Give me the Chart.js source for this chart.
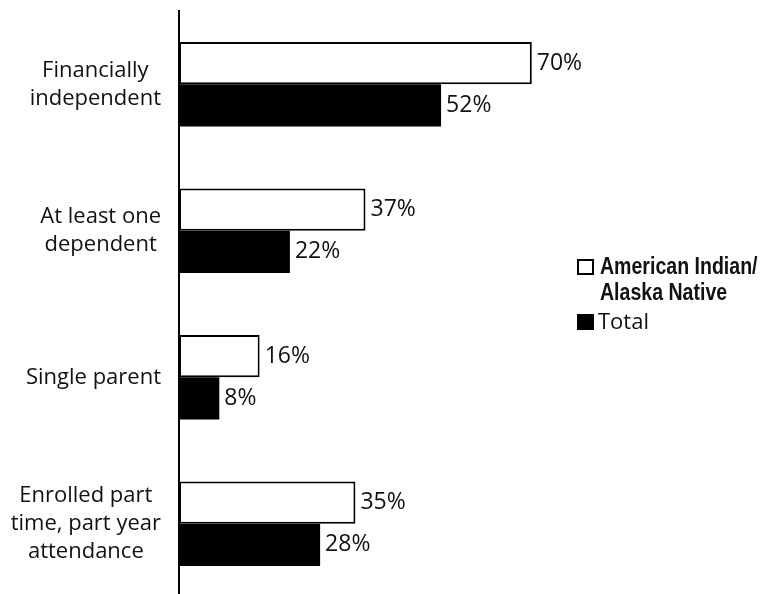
<!DOCTYPE html>
<html>
<head>
<meta charset="utf-8">
<style>
  html, body { margin: 0; padding: 0; background: #fff; overflow: hidden; }
  canvas { display: block; }
</style>
<script src="https://cdn.jsdelivr.net/npm/chart.js@4/dist/chart.umd.min.js"></script>
</head>
<body>
<canvas id="incomeChart" width="760" height="600"></canvas>
<script>
// category labels, one array of lines per bar group
let categories = [
  ["Financially", "independent"],
  ["At least one", "dependent"],
  ["Single parent"],
  ["Enrolled part", "time, part year", "attendance"]
];
let aianValues = [70, 37, 16, 35];
let totalValues = [52, 22, 8, 28];
let seriesNames = [["American Indian/", "Alaska Native"], ["Total"]];

const textFont = "22px 'Open Sans'";
const valueFont = "23px 'Open Sans'";
const legendFont = "bold 23px 'Liberation Sans'";

//Draw category labels: each block centered on itself, blocks right aligned near the axis
const categoryLabels = {
  id: 'categoryLabels',
  afterDraw(chart) {
    let ctx = chart.ctx;
    let yScale = chart.scales.y;
    let right = 161;
    let lineHeight = 28;
    ctx.save();
    ctx.font = textFont;
    ctx.fillStyle = '#111';
    ctx.textAlign = 'center';
    ctx.textBaseline = 'middle';
    categories.forEach((lines, i) => {
      let widest = Math.max(...lines.map(l => ctx.measureText(l).width));
      let cx = right - widest / 2;
      let cy = yScale.getPixelForValue(i);
      let top = cy - (lines.length - 1) * lineHeight / 2;
      lines.forEach((l, j) => ctx.fillText(l, cx, top + j * lineHeight));
    });
    ctx.restore();
  }
};

//Percent labels at the end of each bar
const valueLabels = {
  id: 'valueLabels',
  afterDatasetsDraw(chart) {
    let ctx = chart.ctx;
    ctx.save();
    ctx.font = valueFont;
    ctx.fillStyle = '#111';
    ctx.textAlign = 'left';
    ctx.textBaseline = 'middle';
    chart.data.datasets.forEach((ds, d) => {
      chart.getDatasetMeta(d).data.forEach((bar, i) => {
        ctx.fillText(ds.data[i] + '%', bar.x + 5, bar.y);
      });
    });
    ctx.restore();
  }
};

//Legend on the right side
const sideLegend = {
  id: 'sideLegend',
  afterDraw(chart) {
    let ctx = chart.ctx;
    ctx.save();
    // outlined box
    ctx.fillStyle = '#fff';
    ctx.fillRect(578, 260, 15, 14);
    ctx.strokeStyle = '#000';
    ctx.lineWidth = 2;
    ctx.strokeRect(578, 260, 15, 14);
    ctx.fillStyle = '#000';
    ctx.fillRect(577, 314, 17, 16);

    ctx.fillStyle = '#111';
    ctx.textAlign = 'left';
    ctx.textBaseline = 'middle';
    // condensed bold series name
    ctx.save();
    ctx.translate(600, 0);
    ctx.scale(0.85, 1);
    ctx.font = legendFont;
    seriesNames[0].forEach((l, j) => ctx.fillText(l, 0, 268 + j * 26));
    ctx.restore();
    ctx.font = textFont;
    ctx.fillText(seriesNames[1][0], 598, 323);
    ctx.restore();
  }
};

var ctx = document.getElementById('incomeChart').getContext('2d');
var chart = new Chart(ctx, {
  type: 'bar',
  data: {
    labels: categories,
    datasets: [{
      label: seriesNames[0].join(' '),
      data: aianValues,
      backgroundColor: '#fff',
      borderColor: '#000',
      borderWidth: 2,
      borderSkipped: false
    }, {
      label: seriesNames[1][0],
      data: totalValues,
      backgroundColor: '#000',
      borderWidth: 0
    }]
  },
  options: {
    indexAxis: 'y',
    responsive: false,
    animation: false,
    devicePixelRatio: 1,
    layout: {
      padding: { left: 179, right: 77, top: 11, bottom: 3 }
    },
    barPercentage: 1,
    categoryPercentage: 0.578,
    scales: {
      x: {
        min: 0,
        max: 100,
        display: false
      },
      y: {
        grid: { display: false, drawTicks: false },
        ticks: { display: false },
        border: { display: true, color: '#000', width: 2 }
      }
    },
    plugins: {
      legend: { display: false },
      tooltip: { enabled: false }
    }
  },
  plugins: [categoryLabels, valueLabels, sideLegend]
});
</script>
</body>
</html>
